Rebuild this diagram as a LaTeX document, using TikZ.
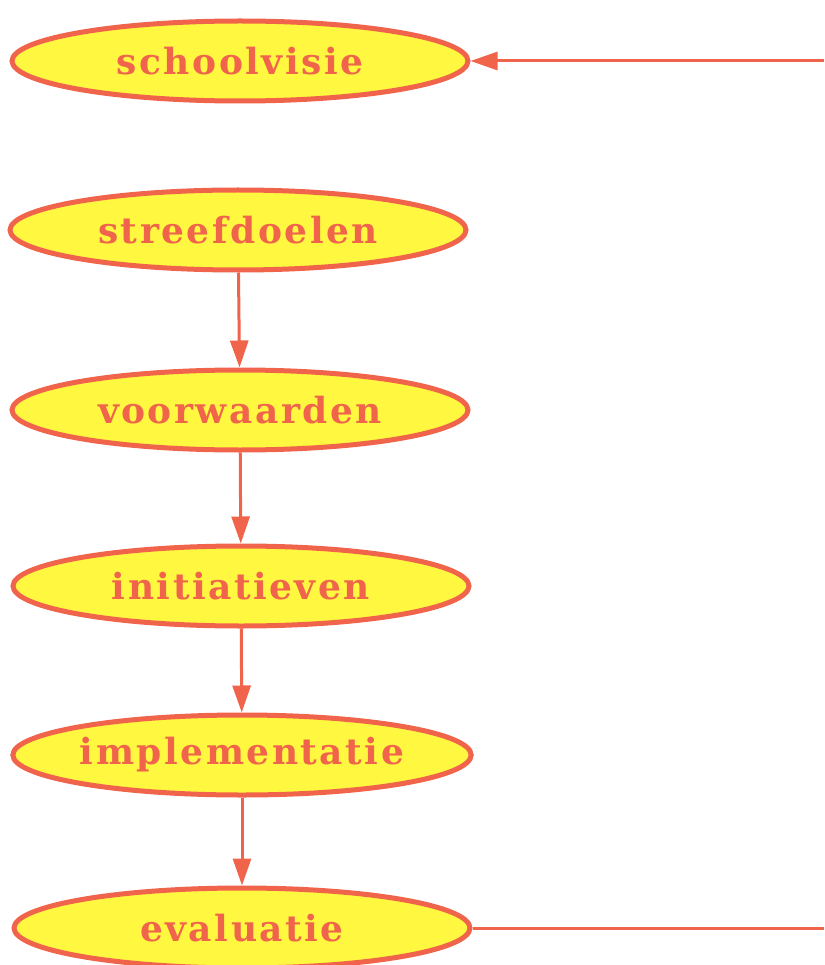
\documentclass[tikz,border=0pt]{standalone}
\usepackage{fontspec}
\newfontfamily\stapfont{DejaVu Serif}[LetterSpace=7]
\usepackage{tikz}
\usetikzlibrary{
    arrows.meta,
    shapes.geometric
}
\definecolor{stapgeel}{RGB}{255,247,64}
\definecolor{staprood}{RGB}{240,100,75}

\begin{document}
\begin{tikzpicture}[x=1pt,y=-1pt,->,>={Triangle[length=27pt,width=18pt]},line width=3pt,draw=staprood,staprood]
    \tikzstyle{stap}=[shape=ellipse, draw=staprood, fill=stapgeel, line width=5pt, inner sep=0pt,
        minimum width=456pt, minimum height=80pt, text=staprood,
        font=\stapfont\bfseries\fontsize{36}{42}\selectfont]
    \useasboundingbox (0,0) rectangle (824,965);
    \node[stap] (visie) at (240, 61){schoolvisie};
    \node[stap] (doelen) at (238, 230){streefdoelen};
    \node[stap] (voorw) at (240, 410){voorwaarden};
    \node[stap] (init) at (241, 586){initiatieven};
    \node[stap] (impl) at (242, 755){implementatie};
    \node[stap] (eval) at (242, 928){evaluatie};
    \coordinate (terug) at (824, 61);
    \coordinate (uit) at (824, 928);
    \path (terug) edge (visie);
    \path (doelen) edge (voorw);
    \path (voorw) edge (init);
    \path (init) edge (impl);
    \path (impl) edge (eval);
    \path (eval) edge[-] (uit);
\end{tikzpicture}
\end{document}
